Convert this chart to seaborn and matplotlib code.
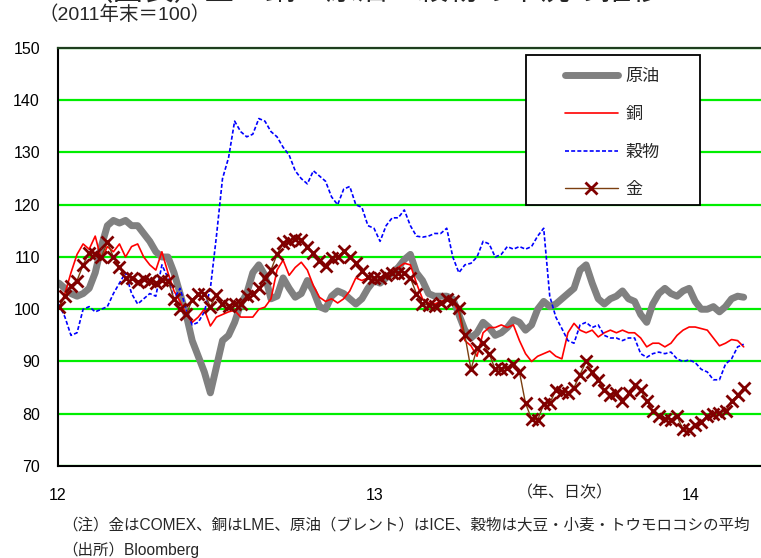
import matplotlib
matplotlib.use("Agg")
import matplotlib.pyplot as plt
import seaborn as sns
import pandas as pd
from matplotlib.patches import Rectangle

# ---- data (weekly readings, 2011年末 = 100) ----
start_date = "2012-01-02"
n_weeks = 114

oil = [105, 104, 103, 102.5, 103, 104, 107, 112, 116, 117,
       116.5, 117, 116, 116, 114.5, 113, 111, 110, 110, 107,
       103, 99, 94, 91, 88, 84, 89, 94, 95, 97.5,
       101, 103, 107, 108.5, 106.5, 102, 102.5, 106, 104, 102.3,
       103, 105.5, 103.5, 100.5, 100, 102.5, 103.5, 103, 102, 101,
       102, 104, 105.5, 105, 106, 107, 108, 109.5, 110.5, 107,
       105.5, 103, 102.5, 102.5, 102.5, 102, 99, 96, 94.5, 95.5,
       97.5, 96.5, 95, 95.5, 96.5, 98, 97.5, 96, 97, 100,
       101.5, 100.5, 101, 102, 103, 104, 107.5, 108.5, 105, 102,
       101, 102, 102.5, 103.5, 102, 101.5, 99, 97.5, 101, 103,
       104, 103, 102.5, 103.5, 104, 101.5, 100, 100, 100.5, 99.5,
       100.5, 102, 102.5, 102.3]

copper = [100, 103, 107, 110.5, 112.5, 111.5, 114, 109.5, 112, 111,
          112.5, 110, 112, 112.5, 110, 108.5, 107.5, 111, 107, 103.5,
          101.5, 99, 97.5, 98.5, 100, 96.8, 98.5, 99, 99.5, 99.8,
          98.5, 98.5, 98.5, 100, 100.4, 102, 107.5, 109.4, 106.5, 108,
          109, 107.5, 104.5, 102.3, 101.5, 102, 101.2, 102, 103.5, 106,
          105.5, 106, 105.5, 105.6, 106.5, 107.5, 108, 108.8, 108.5, 105,
          102, 101.2, 101, 101.5, 101.8, 101.5, 99.5, 94, 93, 91,
          95.5, 96.5, 96.5, 97, 96.5, 97, 94, 91.5, 90, 91,
          91.5, 92, 91, 90.5, 95.5, 97.3, 96, 95.5, 96, 94.7,
          95.5, 96, 95.5, 96, 95.5, 95.5, 94.5, 92.8, 93.5, 93.5,
          92.8, 93.5, 95, 96, 96.6, 96.6, 96.3, 96, 94.5, 93,
          93.5, 94.2, 94, 92.8]

grains = [101, 98.5, 95, 95.5, 100, 100.5, 99.5, 100, 100.5, 103,
          105, 107, 103, 101, 102, 103, 102.5, 108.5, 106, 102,
          104, 100, 97, 97.5, 99.5, 104, 114, 125, 129, 136,
          134, 133, 133.5, 136.5, 136, 134, 133, 131, 129.5, 126.5,
          125, 124, 126.5, 125.5, 124.5, 121.5, 120, 123, 123.5, 120,
          119.5, 116, 115.5, 113, 116, 117.5, 117.5, 119, 116, 114,
          113.8, 114, 114.5, 114.5, 115.5, 110, 107, 108.5, 108.8, 110,
          113, 112.5, 110, 110.5, 112, 111.5, 112, 111.5, 112, 114,
          115.5, 102.5, 98.5, 96.3, 94, 93.5, 97, 97.5, 96.5, 97,
          95, 94.5, 94.5, 94, 94.5, 94.5, 91.5, 90.8, 91.5, 91.8,
          91.5, 91.8, 90.5, 90, 90.3, 89.8, 88.5, 88, 86.5, 86.5,
          89.5, 90.5, 92.8, 93.3]

gold = [100.4, 102.5, 104.5, 105.5, 108.5, 110.8, 110.5, 110, 112.8, 110,
        108, 106, 106, 105.3, 105.8, 105.5, 105, 105.6, 105.5, 102,
        100, 99, 101.8, 103, 103, 100.5, 102.8, 101, 100.6, 101,
        101, 102.5, 103, 104, 106, 107.5, 110.5, 112.6, 113, 113.5,
        113.2, 112, 110.8, 109.2, 108.2, 109.8, 110, 111.2, 110, 108.8,
        107.3, 106.2, 106, 106, 106.5, 107, 107, 107, 106, 103,
        101, 100.8, 100.6, 101.2, 102, 101.5, 100.3, 95, 88.5, 92.5,
        93.5, 91.5, 88.5, 88.5, 88.8, 89.5, 88, 82, 79, 78.8,
        81.8, 82, 84.5, 84.2, 84, 85, 87.5, 90, 88, 86.5,
        84.5, 83.5, 84, 82.5, 84, 85.5, 84.5, 82.5, 80.5, 79.5,
        79, 78.8, 79.5, 77, 76.8, 77.8, 78.5, 79.5, 80, 80.2,
        80.5, 82.5, 83.5, 85]

series_names = ["原油", "銅", "穀物", "金"]
year_ticks = ["2012-01-01", "2013-01-01", "2014-01-01"]
year_labels = ["12", "13", "14"]
y_ticks = [70, 80, 90, 100, 110, 120, 130, 140, 150]

title = "（図表）金・銅・原油・穀物の市況の推移"
subtitle = "（2011年末＝100）"
xunit = "（年、日次）"
note1 = "（注）金はCOMEX、銅はLME、原油（ブレント）はICE、穀物は大豆・小麦・トウモロコシの平均"
note2 = "（出所）Bloomberg"

dates = pd.date_range(start_date, periods=n_weeks, freq="7D")

# ---- style ----
sns.set_style("white")
plt.rcParams["font.family"] = ["Liberation Sans", "Noto Sans CJK JP", "DejaVu Sans"]

W, H = 761, 558
fig = plt.figure(figsize=(W / 100, H / 100), dpi=100)
L, R, T, B = 58, 761, 48, 466
ax = fig.add_axes([L / W, 1 - B / H, (R - L) / W, (B - T) / H])

sns.lineplot(x=dates, y=oil, ax=ax, color="#808080", linewidth=5.0,
             solid_capstyle="round", solid_joinstyle="round", label=series_names[0])
sns.lineplot(x=dates, y=copper, ax=ax, color="#FF0000", linewidth=1.2, label=series_names[1])
sns.lineplot(x=dates, y=grains, ax=ax, color="#0000FF", linewidth=1.2,
             linestyle=(0, (2.4, 1.3)), label=series_names[2])
sns.lineplot(x=dates, y=gold, ax=ax, color="#7B3F10", linewidth=1.0, marker="x",
             markersize=8, markeredgecolor="#800000", markeredgewidth=2.0,
             label=series_names[3])

x0 = pd.Timestamp("2012-01-01")
ax.set_xlim(x0, x0 + pd.Timedelta(days=812))
ax.set_ylim(70, 150)
ax.set_yticks(y_ticks)
ax.set_xticks(pd.to_datetime(year_ticks))
ax.set_xticklabels(year_labels)
ax.set_xlabel("")
ax.set_ylabel("")
ax.tick_params(axis="x", length=0, pad=16, labelsize=11.5, colors="black")
ax.tick_params(axis="y", length=0, pad=13, labelsize=11.5, colors="black")

ax.grid(False)
ax.yaxis.grid(True, color="#00EE00", linewidth=1.6)
ax.set_axisbelow(True)

for s in ["left", "bottom"]:
    ax.spines[s].set_color("black")
    ax.spines[s].set_linewidth(1.5)
ax.spines["top"].set_color("#1E3F1E")
ax.spines["top"].set_linewidth(1.6)
ax.spines["right"].set_visible(False)

# legend with a boxed background
box = Rectangle((526 / W, 1 - 205 / H), (700 - 526) / W, (205 - 55) / H,
                transform=fig.transFigure, facecolor="white", edgecolor="black",
                linewidth=1.3, zorder=5, clip_on=False)
ax.add_patch(box)
leg = ax.legend(loc="upper left", bbox_to_anchor=(565 / W, 1 - 69 / H),
                bbox_transform=fig.transFigure, frameon=False, borderpad=0,
                borderaxespad=0, handlelength=3.1, handletextpad=0.45,
                labelspacing=1.33, numpoints=1, prop={"size": 12.3})
leg.set_zorder(7)

fig.text(83 / W, 1 - 0.5 / H, title, fontsize=22, va="baseline", ha="left")
fig.text(38 / W, 1 - 15 / H, subtitle, fontsize=14, va="center", ha="left")
fig.text(565 / W, 1 - 493 / H, xunit, fontsize=11.5, va="center", ha="center")
fig.text(62 / W, 1 - 526 / H, note1, fontsize=11.2, va="center", ha="left")
fig.text(62 / W, 1 - 550 / H, note2, fontsize=11.2, va="center", ha="left")

fig.savefig("out.png", dpi=100)
